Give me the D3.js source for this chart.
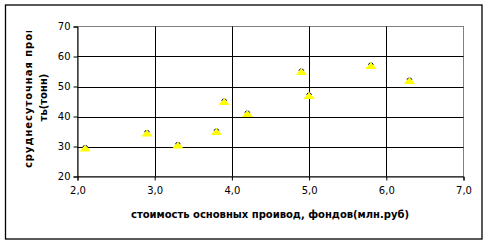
<!DOCTYPE html>
<html><head><meta charset="utf-8">
<script src="https://cdn.jsdelivr.net/npm/d3@7"></script>
<style>body{margin:0;background:#fff}svg{display:block}</style>
</head><body>
<svg id="c" width="488" height="243"></svg>
<script>
const xValues = [2.1, 2.9, 3.3, 3.8, 3.9, 4.2, 4.9, 5.0, 5.8, 6.3];
const yValues = [29.5, 34.5, 30.5, 35, 45, 41, 55, 47, 57, 52];
const xTicks = [2, 3, 4, 5, 6, 7];
const yTicks = [20, 30, 40, 50, 60, 70];
const xTitle = "стоимость основных проивод, фондов(млн.руб)";
const yTitle1 = "сруднесуточная прои";
const yTitle2 = "ть(тонн)";

const svg = d3.select("#c");
const L = 77.5, R = 463.5, T = 26.5, B = 176.5;
const x = d3.scaleLinear().domain([2, 7]).range([L, R]);
const y = d3.scaleLinear().domain([20, 70]).range([B, T]);
const fmt = d => d3.format(".1f")(d).replace(".", ",");

svg.append("rect").attr("x", 5.5).attr("y", 5).attr("width", 476.5).attr("height", 234)
  .attr("fill", "#fff").attr("stroke", "#000").attr("stroke-width", 1.3);

svg.append("rect").attr("x", L).attr("y", T).attr("width", R - L).attr("height", B - T)
  .attr("fill", "none").attr("stroke", "#808080").attr("stroke-width", 1);

svg.append("g").selectAll("line").data(yTicks.filter(d => d > 20 && d < 70)).join("line")
  .attr("x1", L).attr("x2", R).attr("y1", d => Math.round(y(d)) + 0.5).attr("y2", d => Math.round(y(d)) + 0.5)
  .attr("stroke", "#000");
svg.append("g").selectAll("line").data(xTicks.filter(d => d > 2 && d < 7)).join("line")
  .attr("y1", T).attr("y2", B).attr("x1", d => Math.round(x(d)) + 0.5).attr("x2", d => Math.round(x(d)) + 0.5)
  .attr("stroke", "#000");

const yAxis = d3.axisLeft(y).tickValues(yTicks).tickFormat(d => d).tickSize(4).tickPadding(3);
const gy = svg.append("g").attr("transform", `translate(${L},0)`).call(yAxis);
const xAxis = d3.axisBottom(x).tickValues(xTicks).tickFormat(fmt).tickSize(4).tickPadding(6);
const gx = svg.append("g").attr("transform", `translate(0,${B})`).call(xAxis);
[gx, gy].forEach(g => {
  g.select(".domain").attr("stroke", "#000");
  g.selectAll(".tick line").attr("stroke", "#000");
  g.selectAll("text").attr("font-family", "DejaVu Sans, Verdana, sans-serif").attr("font-size", 10).attr("fill", "#000");
});

const pts = xValues.map((v, i) => [v, yValues[i]]);
const g = svg.append("g");
g.selectAll("path.tri").data(pts).join("path").attr("class", "tri")
  .attr("transform", d => `translate(${x(d[0])},${y(d[1])})`)
  .attr("d", "M0,-4 L5.5,3.5 L-5.5,3.5 Z").attr("fill", "#ffff00");
g.selectAll("path.top").data(pts).join("path").attr("class", "top")
  .attr("transform", d => `translate(${x(d[0])},${y(d[1])})`)
  .attr("d", "M-2.5,-0.8 L-1,-2.8 M1,-2.8 L2.5,-0.8").attr("fill", "none").attr("stroke", "#000080").attr("stroke-width", 1);

svg.append("text").attr("x", 270).attr("y", 218).attr("text-anchor", "middle")
  .attr("font-family", "DejaVu Sans, Verdana, sans-serif").attr("font-weight", "bold").attr("font-size", 10)
  .attr("textLength", 278).attr("lengthAdjust", "spacing")
  .text(xTitle);

svg.append("clipPath").attr("id", "yc").append("rect").attr("x", 0).attr("y", 31).attr("width", 70).attr("height", 160);
const yt = svg.append("g").attr("clip-path", "url(#yc)");
yt.append("text").attr("transform", "translate(32,168) rotate(-90)").attr("text-anchor", "start")
  .attr("font-family", "DejaVu Sans, Verdana, sans-serif").attr("font-weight", "bold").attr("font-size", 10)
  .attr("textLength", 142).attr("lengthAdjust", "spacing")
  .text(yTitle1);
yt.append("text").attr("transform", "translate(47,97.5) rotate(-90)").attr("text-anchor", "middle")
  .attr("font-family", "DejaVu Sans, Verdana, sans-serif").attr("font-weight", "bold").attr("font-size", 10)
  .text(yTitle2);
</script>
</body></html>
